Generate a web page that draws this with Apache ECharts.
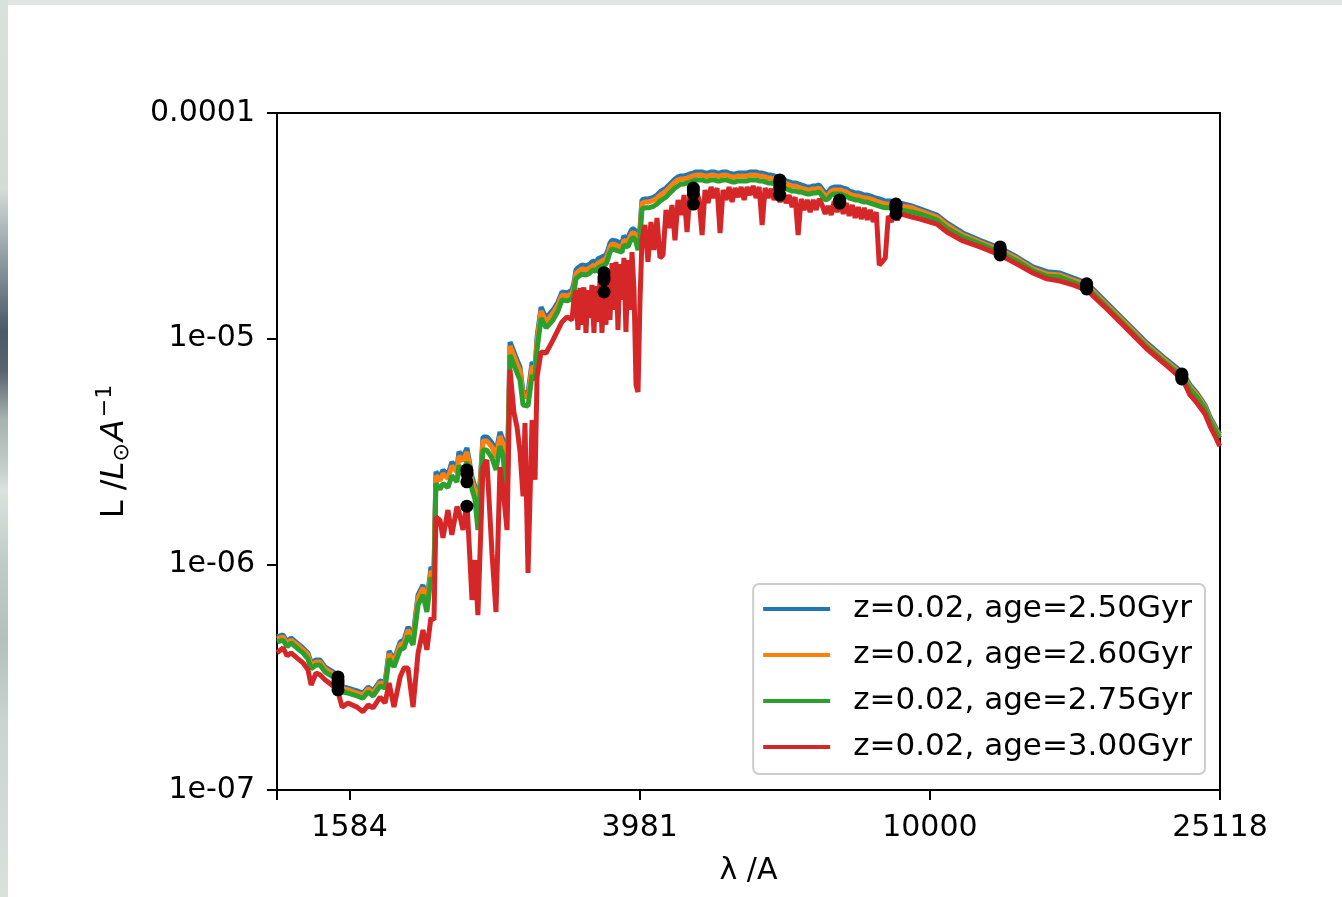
<!DOCTYPE html>
<html>
<head>
<meta charset="utf-8">
<title>SED</title>
<script src="https://cdn.jsdelivr.net/npm/echarts@6/dist/echarts.min.js"></script>
<style>
html, body { margin: 0; padding: 0; }
body { width: 1342px; height: 897px; background: #dfe6e2; position: relative; overflow: hidden; }
#strip { position: absolute; left: 0; top: 0; width: 8px; height: 897px;
  background: linear-gradient(to bottom, #d9e1dd 0px, #d3dbd7 190px, #8d9ba3 260px, #4b5a69 330px, #56636f 370px, #a7b3af 420px, #c5cfcb 470px, #dbe3df 490px, #c0ccc7 560px, #b3c0bb 640px, #c9d3cf 720px, #d9e1dd 897px); }
#chart { position: absolute; left: 8px; top: 5px; width: 1334px; height: 892px; background: #fff; }
</style>
</head>
<body>
<div id="strip"></div>
<div id="chart"></div>
<script>
// wavelength grid (Angstrom)
var wavelength = [
  1259,1283,1300,1316,1341,1367,1389,1403,1425,1443,
  1466,1504,1528,1548,1577,1623,1654,1681,1708,1746,
  1774,1797,1825,1861,1884,1908,1939,1970,2001,2026,
  2052,2072,2085,2112,2132,2166,2193,2229,2243,2272,
  2301,2338,2360,2382,2421,2451,2491,2523,2555,2580,
  2613,2638,2671,2697,2723,2749,2766,2793,2829,2856,
  2874,2911,2958,3024,3072,3111,3161,
  3211,3231,3252,3273,3293,3314,3335,3357,3378,3400,
  3421,3443,3465,3487,3509,3532,3554,3577,3600,3623,
  3646,3669,3692,3716,3739,3763,3787,3811,3836,3860,
  3885,3910,3935,3960,3985,
  4010,4048,4087,4126,4166,4206,4246,4287,4328,4369,
  4411,4453,4496,4539,4583,4627,4671,4716,4761,4807,
  4853,4899,4946,4994,5041,5090,5138,5187,5237,5287,
  5338,5389,5441,5493,5546,5599,5652,5707,5761,5816,
  5872,5928,5985,6042,6100,6159,6217,6277,6337,6398,
  6459,6521,6583,6646,6710,6774,6839,6905,6971,7038,
  7105,7173,7242,7312,7382,7452,7524,7596,7669,7742,
  7817,7891,7967,8043,8120,8198,8277,8356,8436,8517,
  8599,8681,8765,8849,8933,9019,9105,
  9449,9694,10228,10558,11108,11723,12492,13186,13873,14504,
  15117,15751,16464,17543,18695,19916,21226,22334,22834,23347,
  23952,24335,24800,25100
];

// L / Lsun / A, one list per age
var lumAge250 = [
  4.77e-7,4.87e-7,4.53e-7,4.72e-7,4.49e-7,4.26e-7,4.05e-7,3.66e-7,3.77e-7,3.77e-7,
  3.51e-7,3.34e-7,3.20e-7,2.86e-7,2.83e-7,2.75e-7,2.69e-7,2.86e-7,2.75e-7,3.04e-7,
  3.01e-7,4.13e-7,3.77e-7,4.53e-7,4.62e-7,5.28e-7,4.82e-7,7.32e-7,8.10e-7,6.81e-7,
  9.74e-7,9.25e-7,2.57e-6,2.44e-6,2.62e-6,2.49e-6,2.84e-6,2.67e-6,3.15e-6,2.99e-6,
  3.28e-6,2.44e-6,2.21e-6,1.62e-6,3.67e-6,3.67e-6,3.45e-6,3.15e-6,3.86e-6,3.56e-6,
  2.21e-6,9.67e-6,8.73e-6,8.04e-6,7.49e-6,5.80e-6,5.74e-6,5.74e-6,7.88e-6,7.49e-6,
  1.017e-5,1.38e-5,1.235e-5,1.34e-5,1.454e-5,1.61e-5,1.594e-5,
  1.64e-5,1.765e-5,2.02e-5,2.06e-5,2.10e-5,2.12e-5,2.14e-5,2.10e-5,2.06e-5,2.14e-5,
  2.19e-5,2.21e-5,2.165e-5,2.26e-5,2.28e-5,2.30e-5,2.30e-5,2.35e-5,2.47e-5,2.655e-5,
  2.73e-5,2.73e-5,2.71e-5,2.68e-5,2.655e-5,2.655e-5,2.85e-5,2.79e-5,2.79e-5,2.94e-5,
  3.06e-5,3.06e-5,2.97e-5,2.85e-5,3.09e-5,
  4.12e-5,4.16e-5,4.16e-5,4.20e-5,4.24e-5,4.33e-5,4.47e-5,4.56e-5,4.65e-5,4.80e-5,
  4.95e-5,5.10e-5,5.21e-5,5.26e-5,5.26e-5,5.31e-5,5.37e-5,5.42e-5,5.48e-5,5.48e-5,
  5.48e-5,5.42e-5,5.42e-5,5.48e-5,5.48e-5,5.42e-5,5.42e-5,5.48e-5,5.48e-5,5.42e-5,
  5.37e-5,5.37e-5,5.42e-5,5.42e-5,5.42e-5,5.42e-5,5.48e-5,5.48e-5,5.48e-5,5.42e-5,
  5.42e-5,5.37e-5,5.31e-5,5.31e-5,5.26e-5,5.21e-5,5.15e-5,5.10e-5,5.00e-5,4.95e-5,
  4.90e-5,4.90e-5,4.85e-5,4.80e-5,4.75e-5,4.70e-5,4.70e-5,4.75e-5,4.75e-5,4.80e-5,
  4.61e-5,4.42e-5,4.47e-5,4.65e-5,4.70e-5,4.70e-5,4.70e-5,4.65e-5,4.61e-5,4.51e-5,
  4.47e-5,4.42e-5,4.42e-5,4.38e-5,4.33e-5,4.33e-5,4.29e-5,4.24e-5,4.20e-5,4.16e-5,
  4.12e-5,4.07e-5,4.07e-5,4.07e-5,4.03e-5,4.03e-5,3.99e-5,
  3.87e-5,3.76e-5,3.53e-5,3.256e-5,2.94e-5,2.73e-5,2.52e-5,2.30e-5,2.08e-5,1.98e-5,
  1.955e-5,1.86e-5,1.765e-5,1.439e-5,1.174e-5,9.57e-6,8.04e-6,7.05e-6,6.24e-6,5.74e-6,
  5.08e-6,4.50e-6,4.02e-6,3.78e-6
];
var lumAge260 = [
  4.67e-7,4.77e-7,4.44e-7,4.62e-7,4.40e-7,4.18e-7,3.97e-7,3.58e-7,3.69e-7,3.69e-7,
  3.44e-7,3.27e-7,3.14e-7,2.81e-7,2.78e-7,2.69e-7,2.64e-7,2.81e-7,2.69e-7,2.98e-7,
  2.95e-7,4.01e-7,3.69e-7,4.40e-7,4.49e-7,5.12e-7,4.67e-7,7.10e-7,7.86e-7,6.61e-7,
  9.35e-7,8.98e-7,2.47e-6,2.35e-6,2.52e-6,2.40e-6,2.73e-6,2.57e-6,3.02e-6,2.87e-6,
  3.15e-6,2.35e-6,2.12e-6,1.56e-6,3.52e-6,3.52e-6,3.31e-6,2.99e-6,3.70e-6,3.41e-6,
  2.10e-6,9.28e-6,8.38e-6,7.72e-6,7.20e-6,5.57e-6,5.51e-6,5.51e-6,7.57e-6,7.20e-6,
  9.77e-6,1.327e-5,1.186e-5,1.30e-5,1.41e-5,1.56e-5,1.546e-5,
  1.58e-5,1.69e-5,1.935e-5,1.98e-5,2.02e-5,2.04e-5,2.06e-5,2.02e-5,1.98e-5,2.06e-5,
  2.10e-5,2.12e-5,2.08e-5,2.165e-5,2.19e-5,2.21e-5,2.21e-5,2.26e-5,2.37e-5,2.55e-5,
  2.63e-5,2.63e-5,2.60e-5,2.57e-5,2.55e-5,2.55e-5,2.73e-5,2.68e-5,2.68e-5,2.82e-5,
  2.94e-5,2.94e-5,2.85e-5,2.73e-5,2.97e-5,
  3.99e-5,4.03e-5,4.03e-5,4.07e-5,4.12e-5,4.20e-5,4.33e-5,4.42e-5,4.51e-5,4.65e-5,
  4.80e-5,4.95e-5,5.05e-5,5.10e-5,5.10e-5,5.15e-5,5.21e-5,5.26e-5,5.31e-5,5.31e-5,
  5.31e-5,5.26e-5,5.26e-5,5.31e-5,5.31e-5,5.26e-5,5.26e-5,5.31e-5,5.31e-5,5.26e-5,
  5.21e-5,5.21e-5,5.26e-5,5.26e-5,5.26e-5,5.26e-5,5.31e-5,5.31e-5,5.31e-5,5.26e-5,
  5.26e-5,5.21e-5,5.15e-5,5.15e-5,5.10e-5,5.05e-5,5.00e-5,4.95e-5,4.85e-5,4.80e-5,
  4.75e-5,4.75e-5,4.70e-5,4.65e-5,4.61e-5,4.56e-5,4.56e-5,4.61e-5,4.61e-5,4.65e-5,
  4.47e-5,4.29e-5,4.33e-5,4.51e-5,4.56e-5,4.56e-5,4.56e-5,4.51e-5,4.47e-5,4.38e-5,
  4.33e-5,4.29e-5,4.29e-5,4.24e-5,4.20e-5,4.20e-5,4.16e-5,4.12e-5,4.07e-5,4.03e-5,
  3.99e-5,3.95e-5,3.95e-5,3.95e-5,3.91e-5,3.91e-5,3.87e-5,
  3.80e-5,3.68e-5,3.46e-5,3.19e-5,2.88e-5,2.68e-5,2.47e-5,2.26e-5,2.04e-5,1.935e-5,
  1.915e-5,1.82e-5,1.73e-5,1.41e-5,1.151e-5,9.38e-6,7.88e-6,6.90e-6,6.11e-6,5.63e-6,
  4.98e-6,4.41e-6,3.94e-6,3.70e-6
];
var lumAge275 = [
  4.53e-7,4.62e-7,4.31e-7,4.49e-7,4.26e-7,4.05e-7,3.81e-7,3.44e-7,3.58e-7,3.58e-7,
  3.34e-7,3.17e-7,3.04e-7,2.72e-7,2.69e-7,2.61e-7,2.55e-7,2.72e-7,2.61e-7,2.89e-7,
  2.83e-7,3.81e-7,3.51e-7,4.18e-7,4.26e-7,4.82e-7,4.40e-7,6.61e-7,7.32e-7,6.15e-7,
  8.71e-7,8.36e-7,2.28e-6,2.15e-6,2.28e-6,2.19e-6,2.47e-6,2.32e-6,2.73e-6,2.59e-6,
  2.84e-6,2.15e-6,1.94e-6,1.42e-6,3.21e-6,3.21e-6,2.96e-6,2.62e-6,3.34e-6,3.05e-6,
  1.84e-6,8.47e-6,7.65e-6,7.05e-6,6.56e-6,5.08e-6,5.03e-6,5.03e-6,6.90e-6,6.56e-6,
  8.91e-6,1.235e-5,1.116e-5,1.21e-5,1.327e-5,1.485e-5,1.47e-5,
  1.50e-5,1.61e-5,1.84e-5,1.877e-5,1.915e-5,1.935e-5,1.955e-5,1.915e-5,1.877e-5,1.955e-5,
  2.00e-5,2.02e-5,1.98e-5,2.06e-5,2.08e-5,2.10e-5,2.10e-5,2.14e-5,2.26e-5,2.42e-5,
  2.50e-5,2.50e-5,2.47e-5,2.45e-5,2.42e-5,2.42e-5,2.60e-5,2.55e-5,2.55e-5,2.68e-5,
  2.79e-5,2.79e-5,2.68e-5,2.47e-5,2.79e-5,
  3.76e-5,3.80e-5,3.80e-5,3.83e-5,3.87e-5,3.95e-5,4.07e-5,4.16e-5,4.24e-5,4.38e-5,
  4.51e-5,4.65e-5,4.75e-5,4.85e-5,4.85e-5,4.90e-5,4.95e-5,5.00e-5,5.05e-5,5.05e-5,
  5.05e-5,5.00e-5,5.00e-5,5.05e-5,5.05e-5,5.00e-5,5.00e-5,5.05e-5,5.05e-5,5.00e-5,
  4.95e-5,4.95e-5,5.00e-5,5.00e-5,5.00e-5,5.00e-5,5.05e-5,5.05e-5,5.05e-5,5.00e-5,
  5.00e-5,4.95e-5,4.90e-5,4.90e-5,4.85e-5,4.80e-5,4.75e-5,4.70e-5,4.61e-5,4.56e-5,
  4.51e-5,4.51e-5,4.47e-5,4.47e-5,4.42e-5,4.38e-5,4.38e-5,4.42e-5,4.42e-5,4.47e-5,
  4.29e-5,4.12e-5,4.16e-5,4.33e-5,4.38e-5,4.38e-5,4.38e-5,4.33e-5,4.29e-5,4.20e-5,
  4.16e-5,4.12e-5,4.12e-5,4.07e-5,4.03e-5,4.03e-5,3.99e-5,3.95e-5,3.91e-5,3.87e-5,
  3.83e-5,3.80e-5,3.80e-5,3.80e-5,3.76e-5,3.76e-5,3.72e-5,
  3.64e-5,3.57e-5,3.36e-5,3.09e-5,2.82e-5,2.63e-5,2.42e-5,2.21e-5,2.00e-5,1.896e-5,
  1.877e-5,1.78e-5,1.69e-5,1.38e-5,1.127e-5,9.19e-6,7.72e-6,6.76e-6,5.98e-6,5.51e-6,
  4.88e-6,4.32e-6,3.86e-6,3.63e-6
];
var lumAge300 = [
  4.05e-7,4.26e-7,3.93e-7,4.05e-7,3.85e-7,3.66e-7,3.41e-7,2.92e-7,3.30e-7,3.24e-7,
  3.08e-7,2.89e-7,2.72e-7,2.33e-7,2.43e-7,2.33e-7,2.22e-7,2.38e-7,2.31e-7,2.58e-7,
  2.43e-7,2.98e-7,2.33e-7,3.17e-7,3.47e-7,3.47e-7,2.33e-7,4.05e-7,5.12e-7,4.18e-7,
  5.79e-7,5.67e-7,1.62e-6,1.57e-6,1.31e-6,1.74e-6,1.35e-6,1.80e-6,1.71e-6,1.42e-6,
  1.88e-6,6.95e-7,1.045e-6,5.96e-7,2.70e-6,2.90e-6,1.12e-6,6.15e-7,2.70e-6,2.15e-6,
  1.42e-6,7.27e-6,4.69e-6,4.06e-6,3.15e-6,2.00e-6,4.23e-6,9.16e-7,4.36e-6,2.37e-6,
  6.76e-6,8.73e-6,8.64e-6,9.87e-6,1.093e-5,1.186e-5,1.248e-5,
  1.21e-5,1.485e-5,1.64e-5,1.093e-5,1.68e-5,1.151e-5,1.69e-5,1.06e-5,1.64e-5,1.235e-5,
  1.73e-5,1.06e-5,1.71e-5,1.186e-5,1.80e-5,1.06e-5,1.82e-5,1.151e-5,1.955e-5,1.21e-5,
  2.165e-5,1.34e-5,2.19e-5,1.093e-5,2.14e-5,1.485e-5,2.28e-5,1.071e-5,2.23e-5,1.34e-5,
  2.42e-5,1.64e-5,6.23e-6,5.80e-6,1.485e-5,
  2.73e-5,3.19e-5,2.19e-5,3.29e-5,2.47e-5,3.43e-5,2.28e-5,2.35e-5,3.72e-5,3.09e-5,
  3.91e-5,2.73e-5,4.12e-5,3.53e-5,4.33e-5,2.97e-5,4.47e-5,3.91e-5,4.56e-5,4.12e-5,
  2.88e-5,4.56e-5,3.99e-5,4.70e-5,4.20e-5,4.65e-5,2.94e-5,4.56e-5,4.12e-5,4.70e-5,
  4.03e-5,4.65e-5,4.24e-5,4.70e-5,4.12e-5,4.70e-5,4.33e-5,4.75e-5,4.20e-5,4.70e-5,
  3.19e-5,4.65e-5,4.20e-5,4.61e-5,4.12e-5,4.51e-5,4.03e-5,4.42e-5,3.99e-5,4.33e-5,
  3.83e-5,4.24e-5,2.88e-5,4.16e-5,3.72e-5,4.12e-5,3.64e-5,4.12e-5,3.72e-5,4.16e-5,
  3.91e-5,3.57e-5,3.87e-5,3.53e-5,4.07e-5,3.64e-5,4.03e-5,3.57e-5,3.99e-5,3.50e-5,
  3.91e-5,3.43e-5,3.83e-5,3.39e-5,3.80e-5,3.36e-5,3.72e-5,3.29e-5,3.64e-5,2.12e-5,
  2.19e-5,2.28e-5,3.50e-5,3.29e-5,3.61e-5,3.36e-5,3.57e-5,
  3.46e-5,3.39e-5,3.22e-5,2.97e-5,2.71e-5,2.55e-5,2.35e-5,2.14e-5,1.955e-5,1.84e-5,
  1.80e-5,1.73e-5,1.64e-5,1.354e-5,1.105e-5,9.00e-6,7.57e-6,6.56e-6,5.63e-6,5.19e-6,
  4.64e-6,4.10e-6,3.63e-6,3.34e-6
];

// photometric points (black dots)
var photLambda = [1528, 2300, 3555, 4720, 6210, 7510, 8980, 12500, 16450, 22250];
var photAge250 = [3.17e-7, 2.62e-6, 1.96e-5, 4.65e-5, 5.05e-5, 4.12e-5, 3.95e-5, 2.55e-5, 1.75e-5, 6.98e-6];
var photAge260 = [3.04e-7, 2.52e-6, 1.88e-5, 4.56e-5, 4.90e-5, 4.07e-5, 3.87e-5, 2.50e-5, 1.73e-5, 6.90e-6];
var photAge275 = [2.95e-7, 2.32e-6, 1.82e-5, 4.38e-5, 4.65e-5, 4.03e-5, 3.75e-5, 2.42e-5, 1.69e-5, 6.76e-6];
var photAge300 = [2.78e-7, 1.81e-6, 1.61e-5, 3.95e-5, 4.33e-5, 3.99e-5, 3.57e-5, 2.35e-5, 1.66e-5, 6.63e-6];

var seriesNames = ['z=0.02, age=2.50Gyr', 'z=0.02, age=2.60Gyr', 'z=0.02, age=2.75Gyr', 'z=0.02, age=3.00Gyr'];
var seriesColors = ['#1f77b4', '#ff7f0e', '#2ca02c', '#d62728'];
var xTickLabels = ['1584', '3981', '10000', '25118'];
var yTickLabels = ['1e-07', '1e-06', '1e-05', '0.0001'];

var FONT = 'DejaVu Sans';
var lumSets = [lumAge250, lumAge260, lumAge275, lumAge300];
var photSets = [photAge250, photAge260, photAge275, photAge300];

function pairs(xs, ys) {
  return xs.map(function (x, i) { return [x, ys[i]]; });
}

var series = [];
lumSets.forEach(function (ys, k) {
  series.push({
    name: seriesNames[k],
    type: 'line',
    data: pairs(wavelength, ys),
    showSymbol: false,
    symbol: 'none',
    lineStyle: { color: seriesColors[k], width: 5 },
    itemStyle: { color: seriesColors[k] },
    z: 2
  });
});
photSets.forEach(function (ys) {
  series.push({
    type: 'scatter',
    data: pairs(photLambda, ys),
    symbol: 'circle',
    symbolSize: 13,
    itemStyle: { color: '#000', opacity: 1 },
    z: 3
  });
});

// ticks sit at 10^3.2, 10^3.6, 10^4.0, 10^4.4
var xBase = Math.pow(10, 0.4);
function xLabel(v) {
  var k = Math.log10(v) / 0.4;
  if (Math.abs(k - Math.round(k)) > 0.01) return '';
  return xTickLabels[Math.round(k) - 8] || '';
}
function yLabel(v) {
  var e = Math.round(Math.log10(v));
  return yTickLabels[e + 7] || '';
}

var chart = echarts.init(document.getElementById('chart'));
chart.setOption({
  animation: false,
  backgroundColor: '#fff',
  grid: {
    left: 269, right: 122, top: 108, bottom: 107,
    show: true, borderColor: '#000', borderWidth: 2, backgroundColor: 'transparent'
  },
  xAxis: {
    type: 'log',
    logBase: xBase,
    min: Math.pow(10, 3.1),
    max: Math.pow(10, 4.4),
    name: 'λ /A',
    nameLocation: 'middle',
    nameGap: 66,
    nameTextStyle: { fontSize: 30, fontFamily: FONT, color: '#000' },
    axisLine: { lineStyle: { color: '#000', width: 2 } },
    axisTick: { length: 10, lineStyle: { color: '#000', width: 2 } },
    axisLabel: { margin: 23, fontSize: 30, fontFamily: FONT, color: '#000', formatter: xLabel },
    splitLine: { show: false }
  },
  yAxis: {
    type: 'log',
    logBase: 10,
    min: 1e-7,
    max: 1e-4,
    name: '{r|L /}{i|L}{sub|⊙}{i|A}{sup|−1}',
    nameLocation: 'middle',
    nameRotate: 90,
    nameGap: 141,
    nameTextStyle: {
      fontSize: 32, fontFamily: FONT, color: '#000',
      rich: {
        r: { fontSize: 32, fontFamily: FONT, color: '#000' },
        i: { fontSize: 32, fontFamily: FONT, fontStyle: 'italic', color: '#000' },
        sub: { fontSize: 22, fontFamily: FONT, color: '#000', padding: [14, 2, 0, 0] },
        sup: { fontSize: 22, fontFamily: FONT, color: '#000', padding: [0, 0, 20, 2] }
      }
    },
    axisLine: { lineStyle: { color: '#000', width: 2 } },
    axisTick: { length: 10, lineStyle: { color: '#000', width: 2 } },
    axisLabel: { margin: 22, fontSize: 30, fontFamily: FONT, color: '#000', formatter: yLabel },
    splitLine: { show: false }
  },
  legend: {
    data: seriesNames,
    orient: 'vertical',
    right: 137,
    bottom: 123,
    icon: 'rect',
    itemWidth: 67,
    itemHeight: 4,
    itemGap: 14,
    padding: [9, 13, 11, 10],
    backgroundColor: 'rgba(255,255,255,0.8)',
    borderColor: '#cccccc',
    borderWidth: 2,
    borderRadius: 6,
    textStyle: { fontSize: 31, fontFamily: FONT, color: '#000', lineHeight: 32, padding: [0, 0, 0, 18] }
  },
  series: series
});
</script>
</body>
</html>
